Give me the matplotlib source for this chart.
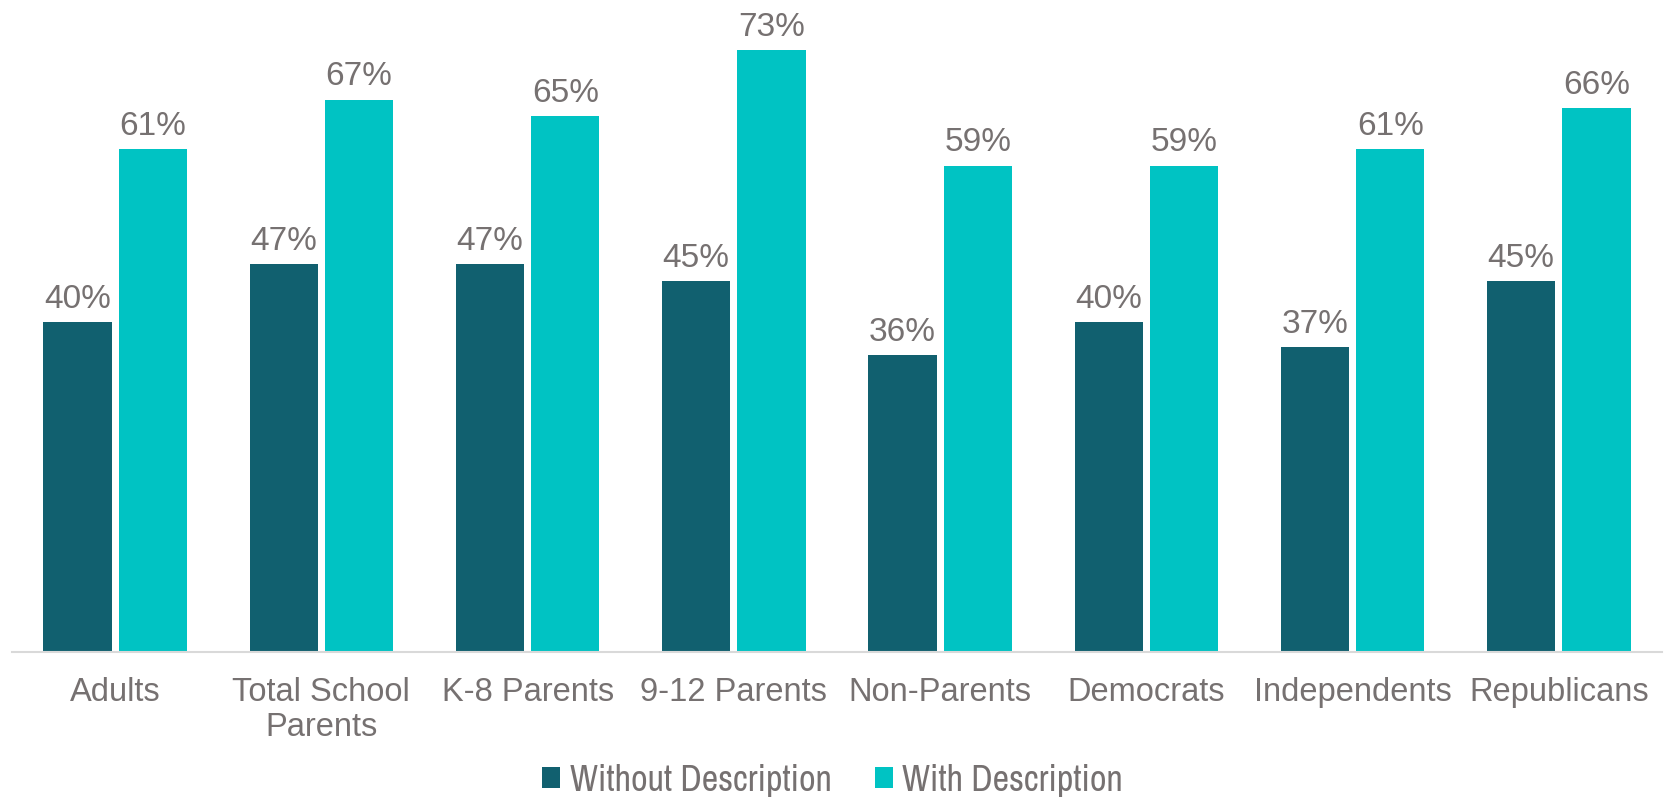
import numpy as np
import matplotlib
matplotlib.use("Agg")
import matplotlib.pyplot as plt
from matplotlib import font_manager

categories = ["Adults", "Total School\nParents", "K-8 Parents", "9-12 Parents",
              "Non-Parents", "Democrats", "Independents", "Republicans"]
without_desc = [40, 47, 47, 45, 36, 40, 37, 45]
with_desc = [61, 67, 65, 73, 59, 59, 61, 66]
series_names = ["Without Description", "With Description"]

dark = "#11606F"
light = "#00C3C3"
grey = "#767171"

plt.rcParams['font.family'] = ['Liberation Sans', 'DejaVu Sans']

fig = plt.figure(figsize=(16.65, 8.03), dpi=100)
ax = fig.add_axes([12 / 1665, 150 / 803, 1650 / 1665, 653 / 803])

x = np.arange(len(categories))
w = 0.33
gap = 0.035
b1 = ax.bar(x - (w + gap) / 2, without_desc, w, color=dark, label=series_names[0])
b2 = ax.bar(x + (w + gap) / 2, with_desc, w, color=light, label=series_names[1])

for bars, vals in ((b1, without_desc), (b2, with_desc)):
    for b, v in zip(bars, vals):
        ax.annotate(f"{v}%", (b.get_x() + b.get_width() / 2, v),
                    xytext=(0, 6), textcoords="offset points",
                    ha="center", va="bottom", fontsize=24, color=grey)

ax.set_xlim(-0.5, len(categories) - 0.5)
ax.set_ylim(0, 79.2)
ax.set_xticks(x)
ax.set_xticklabels(categories, fontsize=23.5, color=grey, linespacing=1.2)
ax.tick_params(axis="x", length=0, pad=17)
ax.set_yticks([])
for s in ["top", "right", "left"]:
    ax.spines[s].set_visible(False)
ax.spines["bottom"].set_color("#D9D9D9")
ax.spines["bottom"].set_linewidth(1.5)

narrow = [f.name for f in font_manager.fontManager.ttflist if "Narrow" in f.name]
leg_font = {"size": 26}
if narrow:
    leg_font["family"] = narrow[0]
leg = fig.legend(loc="center", bbox_to_anchor=(0.5, 1 - 781 / 803), ncol=2,
                 frameon=False, prop=leg_font, handlelength=0.5, handleheight=0.5,
                 handletextpad=0.25, columnspacing=1.2, borderpad=0.1)
for t in leg.get_texts():
    t.set_color(grey)

fig.savefig("out.png", dpi=100)
